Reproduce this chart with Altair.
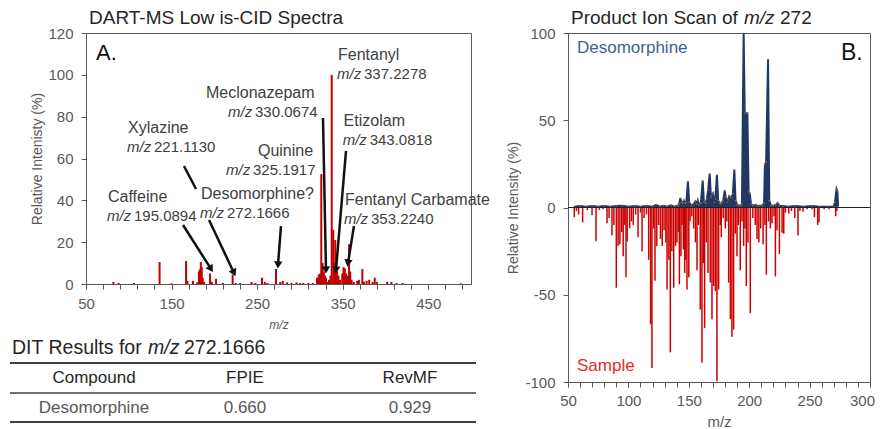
import math
import altair as alt
import pandas as pd

FONT = "Liberation Sans"
GREY = "#595959"
DARK = "#262626"
RED = "#C00000"
NAVY = "#1F3864"

# ---------------- Panel A: DART-MS spectrum ----------------
a_mz = [82, 88, 106, 136, 150, 167, 168.5, 175, 180, 182, 183, 184.2, 185.3, 186.4, 188,
        195, 197, 202, 210, 221.4, 225, 230, 243.5, 248, 255.7, 259, 262, 272.1, 277, 280,
        285, 290, 296, 300, 304, 310, 315, 320, 322, 323.5, 325, 326.6, 328, 329.3, 330.5,
        332, 334, 335.8, 337.2, 339, 340.2, 341.4, 342.5, 343.5, 345, 347, 349.5, 351,
        352.5, 354, 355.5, 357.5, 358.8, 360.5, 363, 367, 369, 373, 375, 378, 381, 385,
        387.5, 390, 402, 407, 413, 420, 488]
a_int = [1.0, 0.5, 0.5, 10.5, 0.3, 11.0, 1.5, 1.5, 0.8, 6.0, 7.0, 10.5, 8.0, 3.0, 1.0,
         5.0, 1.0, 2.5, 0.5, 4.5, 0.5, 0.5, 1.0, 0.5, 3.0, 1.0, 0.5, 7.2, 1.0, 1.5,
         0.8, 0.5, 0.8, 0.5, 0.5, 0.5, 0.5, 3.0, 4.5, 5.0, 52.5, 10.0, 6.0, 4.0, 3.0,
         1.0, 2.0, 4.0, 100.0, 26.0, 10.0, 21.0, 8.0, 6.0, 4.0, 2.0, 5.0, 8.0,
         7.5, 5.0, 4.0, 19.0, 6.0, 2.0, 1.0, 1.5, 2.0, 7.2, 1.0, 1.5, 2.0, 1.0,
         3.0, 1.0, 1.0, 1.0, 0.5, 0.5, 0.3]

lab_name = ["Fentanyl", "Meclonazepam", "Xylazine", "Quinine", "Etizolam",
            "Caffeine", "Desomorphine?", "Fentanyl Carbamate"]
lab_num = ["337.2278", "330.0674", "221.1130", "325.1917", "343.0818",
           "195.0894", "272.1666", "353.2240"]
# annotation anchors (left edge, vertical centre) in data units
lab_name_x = [344.5, 190.3, 99.1, 251.0, 351.1, 75.7, 184.4, 352.7]
lab_name_y = [109.5, 91.3, 74.6, 63.6, 77.9, 41.6, 43.0, 40.2]
lab_num_x = [343.4, 216.0, 97.9, 213.6, 350.0, 74.5, 183.2, 351.5]
lab_num_y = [100.4, 82.2, 65.5, 54.5, 68.8, 32.5, 33.9, 31.1]

arr_x1 = [163.4, 164.5, 193.8, 277.9, 327.0, 353.9, 363.2]
arr_y1 = [28.2, 56.4, 30.6, 27.7, 79.4, 63.6, 27.7]
arr_x2 = [196.1, 178.6, 223.0, 274.4, 330.5, 342.2, 356.2]
arr_y2 = [7.2, 45.4, 5.3, 9.1, 6.7, 6.7, 10.0]
arr_head = [True, False, True, True, True, True, True]

# ---------------- Panel B: product ion scan ----------------
des_mz = [55, 60, 65, 70, 75, 80, 85, 90, 95, 100, 105, 110, 115, 120, 123, 126, 129, 132,
          135, 138, 141, 142, 143, 144, 145, 146, 147, 148, 149.3, 150.3, 152, 154, 155.5,
          156.5, 157.4, 158.5, 160, 161.5, 162.5, 164, 165, 166, 167.3, 168.3, 169, 170,
          171, 172, 173.3, 174.3, 175.5, 176.5, 177.5, 178.5, 179.7, 180.5, 181.5, 182.5,
          183.5, 184.5, 185.5, 186.5, 187.7, 188.7, 190, 192, 193, 194, 195.4, 196.3, 198.5,
          199.5, 200.5, 201.5, 203, 205.5, 207, 209, 211, 212.3, 213, 214, 215.6, 216.6,
          218, 220, 222, 223.5, 225, 228, 232, 238, 245, 252, 258, 265, 270, 271, 272.3,
          273, 273.6]
des_int = [0.5, 0.8, 0.5, 0.8, 0.5, 0.8, 0.5, 0.8, 1.0, 0.5, 0.8, 0.5, 0.8, 0.5, 1.5, 0.5,
           1.0, 0.5, 1.2, 0.5, 1.0, 2.0, 5.4, 3.0, 2.5, 4.0, 2.5, 3.0, 15.0, 3.0, 1.0, 2.0,
           3.5, 2.0, 4.0, 1.5, 2.5, 15.4, 3.0, 2.5, 5.0, 10.0, 19.4, 6.0, 7.0, 8.0, 3.0,
           5.0, 18.8, 4.0, 2.5, 2.0, 3.0, 4.0, 9.8, 6.0, 3.0, 4.5, 6.5, 6.0, 5.5, 8.0,
           21.7, 4.0, 1.5, 1.0, 1.5, 2.0, 100.0, 54.0, 54.0, 9.0, 8.0, 2.0, 1.0, 1.5,
           0.8, 1.0, 1.0, 2.5, 24.5, 26.0, 85.0, 4.0, 1.0, 1.0, 1.5, 2.5, 1.0, 0.8, 0.5,
           0.8, 0.5, 0.8, 0.5, 0.5, 0.5, 3.0, 10.6, 9.5, 0.5]

s_mz = [55.2, 57, 58.8, 62.1, 66, 69.9, 73.2, 76, 79, 82.3, 84, 86.4, 88, 90, 91.5, 93,
        94.5, 95.7, 97, 98, 99, 101, 102.5, 104, 106, 108, 110, 111.3, 113, 115, 116.8,
        118.4, 119.5, 121, 122, 123.5, 125, 126.5, 128, 129.5, 131, 132, 133.5, 134.7, 136,
        137.5, 139, 140.2, 141.5, 142.2, 143.5, 144.4, 145.5, 146.6, 147.5, 148.5, 150, 151,
        152.5, 154, 155.5, 156.8, 158, 159.5, 160.9, 162, 163.1, 164.5, 165.9, 167.8, 169.2,
        170.6, 172, 173.3, 174.7, 176, 176.9, 178.5, 180.2, 181.5, 183, 184.4, 185.7, 187.1,
        188.5, 189.9, 191, 192.6, 194, 195.4, 196.5, 197.6, 199, 200.9, 203, 205, 206.5,
        208, 209.5, 211.5, 213, 214.2, 216, 217.5, 218.9, 220.5, 221.7, 223, 225, 227.2,
        228.6, 230, 232.7, 235, 237.7, 240.4, 242, 244.6, 248, 252, 254, 256.7, 257.8, 262,
        266, 271.6, 272.5]
s_int = [-5.5, -2, -4, -8.5, -1.5, -4.5, -19.4, -1.5, -1, -9, -6, -16, -10, -46, -22, -21,
         -14, -28, -10, -40, -19.5, -12, -8, -10, -4, -17, -3, -25, -6, -4, -30,
         -67, -92, -12, -42, -22, -10, -18, -22, -13, -20, -47, -30, -83, -25,
         -46, -22, -20, -14, -44, -28, -10, -24, -37.5, -30, -47, -40, -8,
         -5, -12, -20, -36, -10, -58.5, -89, -32, -69, -20, -37.5, -43, -64,
         -45, -48, -99.5, -47, -10, -17, -6, -12, -8, -43, -64, -74, -70,
         -15, -28, -10, -36, -8, -22, -12, -45, -20, -60.5, -6, -10, -18,
         -20, -12, -21, -10, -38.5, -8, -12, -9, -5, -39.5, -13, -26.6, -14.5,
         -15, -3, -3.5, -2, -6, -16, -2, -2.5, -1, -1, -5.5, -10, -8.5, -1,
         -1, -5, -2]

# ---------------- Table ----------------
tab_compound = ["Desomorphine"]
tab_fpie = [0.660]
tab_revmf = [0.929]

# ---------------- frames ----------------
A_W, A_H = 385, 251
B_W, B_H = 302, 349
A_XDOM, A_YDOM = [50, 500], [0, 120]
B_XDOM, B_YDOM = [50, 300], [-100, 100]

df_a = pd.DataFrame({"mz": a_mz, "int": a_int})
df_names = pd.DataFrame({"mz": lab_name_x, "int": lab_name_y, "name": lab_name})
df_nums = pd.DataFrame({"mz": lab_num_x, "int": lab_num_y, "num": lab_num})
df_arr = pd.DataFrame({"mz": arr_x1, "int": arr_y1, "mz2": arr_x2, "int2": arr_y2})

kx = A_W / (A_XDOM[1] - A_XDOM[0])
ky = A_H / (A_YDOM[1] - A_YDOM[0])
heads = []
for x1, y1, x2, y2, h in zip(arr_x1, arr_y1, arr_x2, arr_y2, arr_head):
    if h:
        dx = (x2 - x1) * kx
        dys = -(y2 - y1) * ky
        ang = math.degrees(math.atan2(dx, -dys)) % 360
        heads.append({"mz": x2, "int": y2, "ang": ang})
df_heads = pd.DataFrame(heads)
one = pd.DataFrame({"k": [0]})

xA = alt.X("mz:Q", scale=alt.Scale(domain=A_XDOM, nice=False),
           axis=alt.Axis(values=[50, 150, 250, 350, 450], labelOverlap=False, orient="bottom",
                         labelFlush=False, title="m/z", titleFontStyle="italic",
                         titleFontSize=12, titlePadding=8, labelPadding=7))
yA = alt.Y("int:Q", scale=alt.Scale(domain=A_YDOM, nice=False),
           axis=alt.Axis(values=list(range(0, 121, 20)), title="Relative Intenisty (%)",
                         titleFontSize=14, titlePadding=3, labelPadding=8))

# unlabelled minor ticks every 20
minorA = alt.Chart(df_a).mark_rule(opacity=0).encode(
    x=alt.X("mz:Q", scale=alt.Scale(domain=A_XDOM, nice=False),
            axis=alt.Axis(values=list(range(50, 500, 20)), labels=False, title=None,
                          domain=False, orient="bottom")),
    y=yA)
sticksA = alt.Chart(df_a).mark_rule(color=RED, strokeWidth=2).encode(
    x=xA, y=yA, y2=alt.datum(0))
arrows = alt.Chart(df_arr).mark_rule(color="#111111", strokeWidth=2.5).encode(
    x="mz:Q", y="int:Q", x2="mz2:Q", y2="int2:Q")
arrow_heads = alt.Chart(df_heads).mark_point(
    shape="triangle-up", filled=True, size=70, color="#111111", opacity=1).encode(
    x="mz:Q", y="int:Q", angle=alt.Angle("ang:Q", scale=None))
names = alt.Chart(df_names).mark_text(
    align="left", baseline="middle", fontSize=16, color="#404040").encode(
    x="mz:Q", y="int:Q", text="name:N")
mz_it = alt.Chart(df_nums).mark_text(
    align="left", baseline="middle", fontSize=15, fontStyle="italic", color="#404040").encode(
    x="mz:Q", y="int:Q", text=alt.value("m/z"))
nums = alt.Chart(df_nums).mark_text(
    align="left", baseline="middle", fontSize=15, dx=27, color="#404040").encode(
    x="mz:Q", y="int:Q", text="num:N")
titleA = alt.Chart(one).mark_text(
    align="left", baseline="middle", fontSize=19, color=DARK, text="DART-MS Low is-CID Spectra"
).encode(x=alt.value(3), y=alt.value(-15))
letterA = alt.Chart(one).mark_text(
    align="left", baseline="middle", fontSize=22, color="#111111", text="A."
).encode(x=alt.value(10), y=alt.value(20))

mainA = alt.layer(sticksA, arrows, arrow_heads, names, mz_it, nums, titleA, letterA)
panelA = alt.layer(minorA, mainA).resolve_axis(x="independent").properties(width=A_W, height=A_H)

# ---------------- table chart ----------------
T_H = 84
df_tab = pd.DataFrame({"Compound": tab_compound, "FPIE": tab_fpie, "RevMF": tab_revmf})
t_title1 = alt.Chart(one).mark_text(align="left", baseline="middle", fontSize=19.5, color=DARK,
                                    text="DIT Results for").encode(x=alt.value(-74), y=alt.value(8))
t_title2 = alt.Chart(one).mark_text(align="left", baseline="middle", fontSize=19.5, color=DARK,
                                    fontStyle="italic", text="m/z").encode(x=alt.value(62), y=alt.value(8))
t_title3 = alt.Chart(one).mark_text(align="left", baseline="middle", fontSize=19.5, color=DARK,
                                    text="272.1666").encode(x=alt.value(98), y=alt.value(8))
line_top = alt.Chart(one).mark_rule(color="#404040", strokeWidth=2).encode(
    x=alt.value(-76), x2=alt.value(390), y=alt.value(23))
line_mid = alt.Chart(one).mark_rule(color="#404040", strokeWidth=1.5).encode(
    x=alt.value(-76), x2=alt.value(390), y=alt.value(53))
line_bot = alt.Chart(one).mark_rule(color="#404040", strokeWidth=2).encode(
    x=alt.value(-76), x2=alt.value(390), y=alt.value(82))
hdrs = []
for txt, xp in [("Compound", 8), ("FPIE", 159), ("RevMF", 324)]:
    hdrs.append(alt.Chart(one).mark_text(align="center", baseline="middle", fontSize=17,
                                         color=DARK, text=txt).encode(x=alt.value(xp), y=alt.value(38)))
c1 = alt.Chart(df_tab).mark_text(align="center", baseline="middle", fontSize=17, color=GREY).encode(
    x=alt.value(8), y=alt.value(68), text="Compound:N")
c2 = alt.Chart(df_tab).mark_text(align="center", baseline="middle", fontSize=17, color=GREY).encode(
    x=alt.value(159), y=alt.value(68), text=alt.Text("FPIE:Q", format=".3f"))
c3 = alt.Chart(df_tab).mark_text(align="center", baseline="middle", fontSize=17, color=GREY).encode(
    x=alt.value(324), y=alt.value(68), text=alt.Text("RevMF:Q", format=".3f"))
table = alt.layer(t_title1, t_title2, t_title3, line_top, line_mid, line_bot, *hdrs, c1, c2, c3
                  ).properties(width=A_W, height=T_H,
                               view=alt.ViewBackground(stroke="transparent"))

# ---------------- Panel B ----------------
df_des = pd.DataFrame({"mz": des_mz, "int": des_int})
df_s = pd.DataFrame({"mz": s_mz, "int": s_int})

xB = alt.X("mz:Q", scale=alt.Scale(domain=B_XDOM, nice=False),
           axis=alt.Axis(values=[50, 100, 150, 200, 250, 300], labelOverlap=False, orient="bottom",
                         labelFlush=False, title="m/z", titleFontSize=15, titlePadding=6,
                         labelPadding=6,
                         labelOffset={"condition": {"test": "datum.value == 300", "value": -8},
                                      "value": 0}))
yB = alt.Y("int:Q", scale=alt.Scale(domain=B_YDOM, nice=False),
           axis=alt.Axis(values=[-100, -50, 0, 50, 100], title="Relative Intensity (%)",
                         labelExpr="datum.value < 0 ? '-' + abs(datum.value) : datum.label",
                         titleFontSize=14, titlePadding=4, labelPadding=8))

minorB = alt.Chart(df_s).mark_rule(opacity=0).encode(
    x=alt.X("mz:Q", scale=alt.Scale(domain=B_XDOM, nice=False),
            axis=alt.Axis(values=list(range(50, 301, 10)), labels=False, title=None,
                          domain=False, orient="bottom")),
    y=yB)
sticksB = alt.Chart(df_s).mark_rule(color="#CC0000", strokeWidth=1.5).encode(
    x=xB, y=yB, y2=alt.datum(0))
areaB = alt.Chart(df_des).mark_area(
    color=NAVY, opacity=1, line=alt.LineConfig(color=NAVY, strokeWidth=2)).encode(
    x="mz:Q", y="int:Q", y2=alt.datum(0))
dotsB = alt.Chart(df_des).mark_point(filled=True, size=3, color="#ED7D31", opacity=0.6).encode(
    x="mz:Q", y="int:Q")
zeroB = alt.Chart(one).mark_rule(color="#222222", strokeWidth=1).encode(
    y=alt.datum(0), x=alt.value(0), x2=alt.value(B_W))
titleB1 = alt.Chart(one).mark_text(align="left", baseline="middle", fontSize=19, color=DARK,
                                   text="Product Ion Scan of").encode(x=alt.value(3), y=alt.value(-15))
titleB2 = alt.Chart(one).mark_text(align="left", baseline="middle", fontSize=19, color=DARK,
                                   fontStyle="italic", text="m/z").encode(x=alt.value(176), y=alt.value(-15))
titleB3 = alt.Chart(one).mark_text(align="left", baseline="middle", fontSize=19, color=DARK,
                                   text="272").encode(x=alt.value(212), y=alt.value(-15))
letterB = alt.Chart(one).mark_text(align="left", baseline="middle", fontSize=23, color="#111111",
                                   text="B.").encode(x=alt.value(273), y=alt.value(20))
desLab = alt.Chart(one).mark_text(align="left", baseline="middle", fontSize=17, color="#41608F",
                                  text="Desomorphine").encode(x=alt.value(9), y=alt.value(15))
samLab = alt.Chart(one).mark_text(align="left", baseline="middle", fontSize=17, color="#E0302A",
                                  text="Sample").encode(x=alt.value(9), y=alt.value(333))

mainB = alt.layer(sticksB, areaB, dotsB, zeroB, titleB1, titleB2, titleB3, letterB, desLab, samLab)
panelB = alt.layer(minorB, mainB).resolve_axis(x="independent").properties(width=B_W, height=B_H)

left = alt.vconcat(panelA, table, spacing=6)
chart = alt.hconcat(left, panelB, spacing=15).properties(
    padding={"left": 0, "top": 0, "right": 0, "bottom": 0}
).configure(font=FONT).configure_view(stroke=GREY, strokeWidth=1).configure_axis(
    grid=False, labelFont=FONT, titleFont=FONT, labelFontSize=15, labelColor=GREY,
    titleColor=GREY, domainColor=GREY, tickColor=GREY, titleFontWeight="normal", tickSize=5
)

chart.save("out.html", embed_options={"renderer": "svg", "actions": False})
